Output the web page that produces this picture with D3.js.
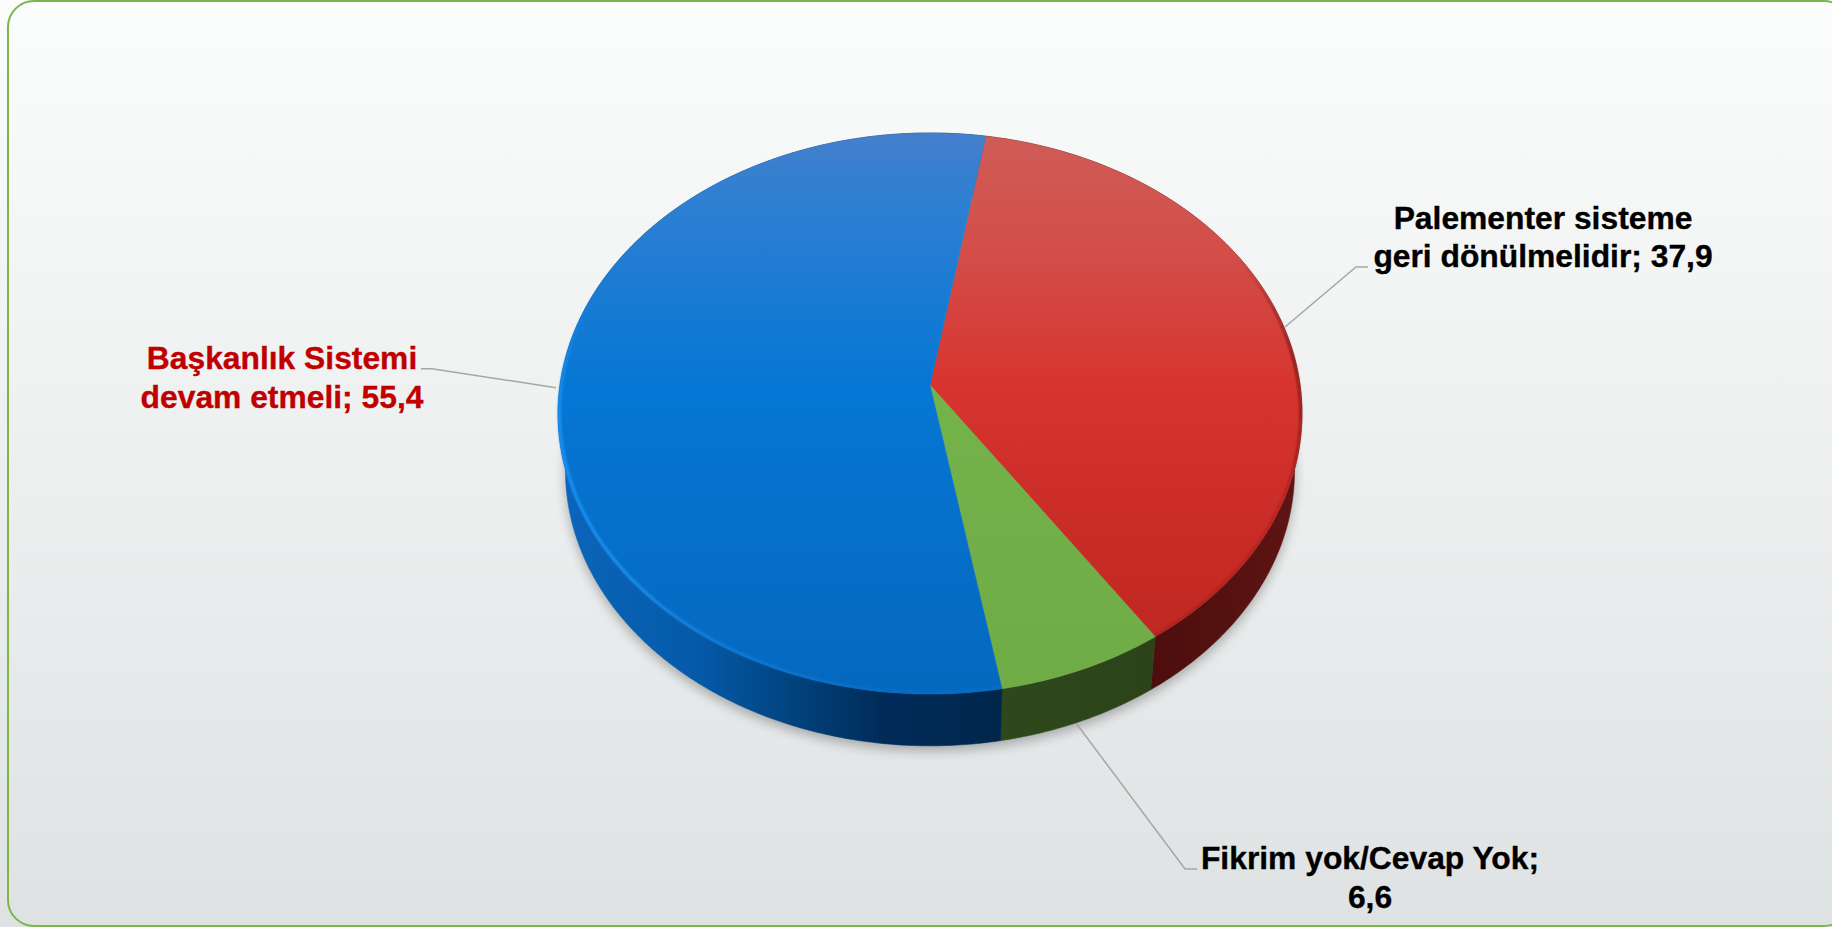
<!DOCTYPE html>
<html lang="tr">
<head>
<meta charset="utf-8">
<title>Pie</title>
<script src="https://cdn.jsdelivr.net/npm/d3@7/dist/d3.min.js"></script>
<style>
html,body{margin:0;padding:0;background:#fff;overflow:hidden}
svg{display:block}
text{font-family:"Liberation Sans",Arial,Helvetica,sans-serif;font-weight:700}
</style>
</head>
<body>
<svg id="chart" width="1832" height="927"></svg>
<script>
// Data, clockwise from the slice starting near the top
const categories = ["Palementer sisteme|geri dönülmelidir", "Fikrim yok/Cevap Yok", "Başkanlık Sistemi|devam etmeli"];
const values = [37.9, 6.6, 55.4];
const sliceKeys = ["red", "green", "blue"];

// Styles
const labelColors = ["#000000", "#000000", "#C00000"];
const topStops = {
  red:   [[133,"#cf5c57"],[250,"#d34e49"],[385,"#d7342f"],[520,"#ca2c27"],[640,"#c02822"]],
  green: [[385,"#74b24a"],[700,"#70ac46"]],
  blue:  [[133,"#457fcc"],[200,"#2f7fd2"],[385,"#0577d4"],[694,"#0568bf"]]
};
const wallStops = {
  red:   [[1150,"#4c0e0d"],[1300,"#5e1513"]],
  green: [[1000,"#2e481b"],[1154,"#2c4319"]],
  blue:  [[560,"#0b65bb"],[700,"#055aa8"],[790,"#00437f"],[880,"#002c5a"],[1000,"#00264c"]]
};

const width = 1832, height = 927;
const svg = d3.select("#chart");
const defs = svg.append("defs");

// Perspective of the disc
const cx = 930, apexY = 385, depthY = 443, A = 370, B = 277.6, persp = 0.1016, depthScale = 0.98;
const startAngle = 9.55 * Math.PI / 180;

function project(theta, lower) {
  const u = Math.sin(theta), v = -Math.cos(theta);
  const s = 1 / (1 - persp * v);
  const q = lower ? depthScale : 1;
  const y0 = lower ? depthY : apexY;
  return [cx + A * u * s * q, y0 + B * v * s * q];
}
function arcSamples(a0, a1) {
  const n = Math.max(2, Math.ceil((a1 - a0) / 0.01));
  return d3.range(n + 1).map(i => a0 + (a1 - a0) * i / n);
}
const line = d3.line();

const pie = d3.pie().sort(null).value(d => d.value)
  .startAngle(startAngle).endAngle(startAngle + 2 * Math.PI);
const arcs = pie(values.map((value, i) => ({value, key: sliceKeys[i], category: categories[i], color: labelColors[i]})));

// Page background
const bg = defs.append("linearGradient").attr("id","bg").attr("x1",0).attr("y1",0).attr("x2",0).attr("y2",1);
bg.append("stop").attr("offset",0).attr("stop-color","#fbfdfc");
bg.append("stop").attr("offset",1).attr("stop-color","#dfe2e3");
svg.append("rect").attr("width",width).attr("height",height).attr("fill","url(#bg)");
svg.append("rect").attr("x",8).attr("y",1).attr("width",1842).attr("height",925).attr("rx",26).attr("ry",26)
  .attr("fill","none").attr("stroke","#7ab648").attr("stroke-width",2);

// Gradients
function gradient(id, stops, x1, y1, x2, y2, horizontal) {
  const g = defs.append("linearGradient").attr("id", id).attr("gradientUnits","userSpaceOnUse")
    .attr("x1",x1).attr("y1",y1).attr("x2",x2).attr("y2",y2);
  const scale = d3.scaleLinear().domain(horizontal ? [x1,x2] : [y1,y2]).range([0,1]);
  stops.forEach(([p,c]) => g.append("stop").attr("offset",scale(p)).attr("stop-color",c));
}
sliceKeys.forEach(k => {
  const t = topStops[k], w = wallStops[k];
  gradient("top-"+k, t, 0, t[0][0], 0, t[t.length-1][0], false);
  gradient("wall-"+k, w, w[0][0], 0, w[w.length-1][0], 0, true);
});

const blur = defs.append("filter").attr("id","shadow").attr("x","-10%").attr("y","-10%").attr("width","120%").attr("height","120%");
blur.append("feGaussianBlur").attr("stdDeviation",6);
const soft = defs.append("filter").attr("id","soft").attr("x","-5%").attr("y","-5%").attr("width","110%").attr("height","110%");
soft.append("feGaussianBlur").attr("stdDeviation",0.8);

// Shadow under the disc
const full = arcSamples(0, 2 * Math.PI);
svg.append("path").attr("d", line(full.map(a => project(a, true))) + "Z")
  .attr("transform","translate(0,5)").attr("fill","#000").attr("opacity",0.28).attr("filter","url(#shadow)");

// Leader lines
const leaders = [
  [[1368,267],[1356,267],[1285,327]],
  [[1197,869],[1185,869],[1076,723]],
  [[421,368.7],[432,368.7],[556,387.7]]
];
svg.append("g").selectAll("path").data(leaders).join("path")
  .attr("d", d => line(d)).attr("fill","none").attr("stroke","#a6a6a6").attr("stroke-width",1.5);

// Walls
svg.append("g").selectAll("path").data(arcs).join("path")
  .attr("d", d => {
    const s = arcSamples(d.startAngle, d.endAngle);
    return line(s.map(a => project(a,false)).concat(s.slice().reverse().map(a => project(a,true)))) + "Z";
  })
  .attr("fill", d => `url(#wall-${d.data.key})`)
  .attr("stroke", d => `url(#wall-${d.data.key})`).attr("stroke-width",0.6);

// Top faces
svg.append("g").selectAll("path").data(arcs).join("path")
  .attr("d", d => {
    const s = arcSamples(d.startAngle, d.endAngle);
    return line([[cx,apexY]].concat(s.map(a => project(a,false)))) + "Z";
  })
  .attr("fill", d => `url(#top-${d.data.key})`)
  .attr("stroke", d => `url(#top-${d.data.key})`).attr("stroke-width",0.5);

// Rim highlights
const rimBlue = defs.append("linearGradient").attr("id","rim-blue").attr("gradientUnits","userSpaceOnUse")
  .attr("x1",0).attr("y1",300).attr("x2",0).attr("y2",695);
[[0,0],[0.28,0.95],[0.7,0.85],[0.95,0.25],[1,0.1]].forEach(([o,a]) =>
  rimBlue.append("stop").attr("offset",o).attr("stop-color","#2094f5").attr("stop-opacity",a));
const rimRed = defs.append("linearGradient").attr("id","rim-red").attr("gradientUnits","userSpaceOnUse")
  .attr("x1",0).attr("y1",260).attr("x2",0).attr("y2",500);
[[0,0],[0.4,0.9],[1,0.25]].forEach(([o,a]) =>
  rimRed.append("stop").attr("offset",o).attr("stop-color","#4e0f0e").attr("stop-opacity",a));

const rimGroup = svg.append("g");
arcs.filter(d => d.data.key !== "green").forEach(d => {
  const s = arcSamples(d.startAngle, d.endAngle);
  rimGroup.append("path").attr("d", line(s.map(a => {
      const p = project(a,false);
      return [cx + (p[0]-cx)*0.996, apexY + 28 + (p[1]-apexY-28)*0.996];
    })))
    .attr("fill","none").attr("stroke", `url(#rim-${d.data.key})`)
    .attr("stroke-width", d.data.key === "blue" ? 3 : 2).attr("filter","url(#soft)");
});

// Labels
const fmt = d3.formatLocale({decimal:",",thousands:".",grouping:[3],currency:["","₺"]}).format(".1f");
const labelPos = [[1543,228.5],[1370,869],[282,369]];
const labelLines = arcs.map(d => {
  const parts = d.data.category.split("|");
  if (parts.length > 1) return [parts[0], parts[1] + "; " + fmt(d.data.value)];
  return [parts[0] + ";", fmt(d.data.value)];
});
const labels = svg.append("g").selectAll("text").data(arcs).join("text")
  .attr("text-anchor","middle").attr("font-size",31.8)
  .attr("fill", d => d.data.color)
  .attr("stroke", d => d.data.color).attr("stroke-width",0.35)
  .attr("transform",(d,i) => `translate(${labelPos[i][0]},${labelPos[i][1]})`);
labels.selectAll("tspan").data((d,i) => labelLines[i]).join("tspan")
  .attr("x",0).attr("y",(d,i) => i * 38.7).text(d => d);
</script>
</body>
</html>
